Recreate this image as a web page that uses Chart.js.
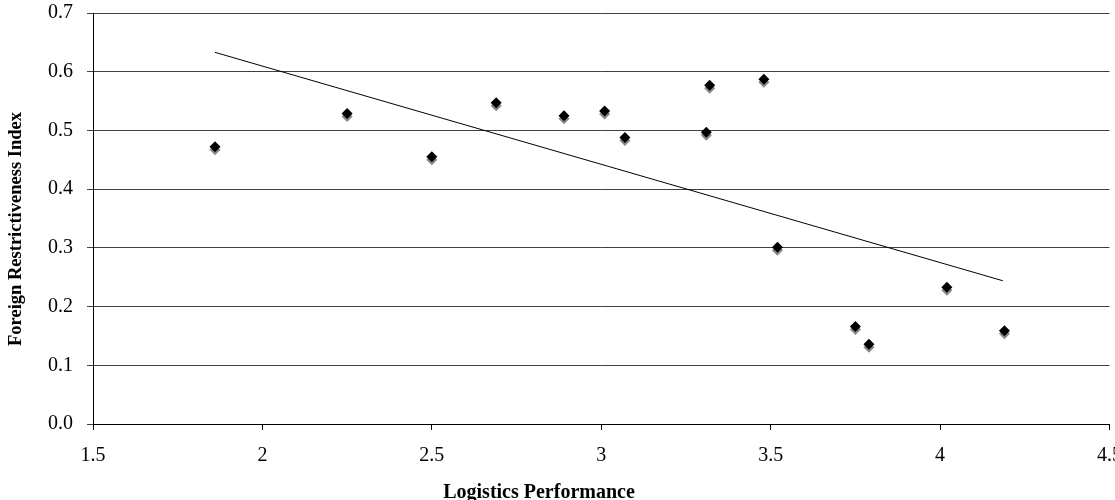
<!DOCTYPE html>
<html>
<head>
<meta charset="utf-8">
<script src="https://cdn.jsdelivr.net/npm/chart.js@4"></script>
<style>
  html, body { margin: 0; padding: 0; background: #fff; }
  #wrap { width: 1115px; height: 500px; position: relative; }
</style>
</head>
<body>
<div id="wrap"><canvas id="chart"></canvas></div>
<script>
// Datos
const logisticsPerf = [1.86, 2.25, 2.50, 2.69, 2.89, 3.01, 3.07, 3.31, 3.32, 3.48, 3.52, 3.75, 3.79, 4.02, 4.19];
const restrictIndex = [0.472, 0.529, 0.455, 0.547, 0.525, 0.533, 0.488, 0.497, 0.577, 0.587, 0.301, 0.166, 0.136, 0.233, 0.159];
// Línea de tendencia (extremos)
const trendX = [1.86, 4.185];
const trendY = [0.633, 0.244];

const xTicks = [1.5, 2, 2.5, 3, 3.5, 4, 4.5];
const yTicks = [0.0, 0.1, 0.2, 0.3, 0.4, 0.5, 0.6, 0.7];

const xTitle = 'Logistics Performance';
const yTitle = 'Foreign Restrictiveness Index';

const serif = "'Liberation Serif', 'Times New Roman', serif";

// Sombra gris bajo los rombos
const shadowPlugin = {
    id: 'markerShadow',
    beforeDatasetDraw(chart, args) {
        if (args.index !== 0) return;
        const ctx = chart.ctx;
        ctx.save();
        ctx.shadowColor = '#888888';
        ctx.shadowOffsetX = 0;
        ctx.shadowOffsetY = 3;
        ctx.shadowBlur = 0;
    },
    afterDatasetDraw(chart, args) {
        if (args.index !== 0) return;
        chart.ctx.restore();
    }
};

// Títulos de los ejes
const axisTitles = {
    id: 'axisTitles',
    afterDraw(chart) {
        const ctx = chart.ctx;
        ctx.save();
        ctx.fillStyle = '#000';
        ctx.textAlign = 'center';
        ctx.textBaseline = 'alphabetic';
        ctx.font = `bold 20px ${serif}`;
        ctx.fillText(xTitle, 539, 498);
        ctx.font = `bold 18.5px ${serif}`;
        ctx.translate(21, 229);
        ctx.rotate(-Math.PI / 2);
        ctx.fillText(yTitle, 0, 0);
        ctx.restore();
    }
};

const points = logisticsPerf.map((x, i) => ({ x: x, y: restrictIndex[i] }));
const trend = trendX.map((x, i) => ({ x: x, y: trendY[i] }));

new Chart(document.getElementById('chart'), {
    type: 'scatter',
    data: {
        datasets: [{
            data: points,
            pointStyle: 'rectRot',
            pointRadius: 5.5,
            pointHoverRadius: 5.5,
            backgroundColor: '#000',
            borderColor: '#000',
            borderWidth: 0
        }, {
            type: 'line',
            data: trend,
            borderColor: '#000',
            borderWidth: 1,
            pointRadius: 0,
            fill: false,
            tension: 0
        }]
    },
    options: {
        responsive: true,
        maintainAspectRatio: false,
        animation: false,
        events: [],
        layout: { padding: { top: 13, right: 2, left: 0, bottom: 0 } },
        plugins: {
            legend: { display: false },
            tooltip: { enabled: false },
            title: { display: false }
        },
        scales: {
            x: {
                type: 'linear',
                min: xTicks[0],
                max: xTicks[xTicks.length - 1],
                afterBuildTicks: (s) => { s.ticks = xTicks.map(v => ({ value: v })); },
                ticks: {
                    color: '#000',
                    font: { family: serif, size: 20 },
                    padding: 14,
                    maxRotation: 0,
                    autoSkip: false,
                    callback: (v) => String(v)
                },
                grid: {
                    drawOnChartArea: false,
                    drawTicks: true,
                    tickLength: 6,
                    color: '#000'
                },
                border: { display: true, color: '#000', width: 1 },
                afterFit: (s) => { s.height = 76; s.paddingLeft = 0; s.paddingRight = 0; }
            },
            y: {
                type: 'linear',
                min: yTicks[0],
                max: yTicks[yTicks.length - 1],
                afterBuildTicks: (s) => { s.ticks = yTicks.map(v => ({ value: v })); },
                ticks: {
                    color: '#000',
                    font: { family: serif, size: 20 },
                    padding: 14,
                    callback: (v) => Number(v).toFixed(1)
                },
                grid: {
                    drawOnChartArea: true,
                    drawTicks: true,
                    tickLength: 6,
                    color: '#404040',
                    lineWidth: 1
                },
                border: { display: true, color: '#000', width: 1 },
                afterFit: (s) => { s.width = 93; s.paddingTop = 0; s.paddingBottom = 0; }
            }
        }
    },
    plugins: [shadowPlugin, axisTitles]
});
</script>
</body>
</html>
